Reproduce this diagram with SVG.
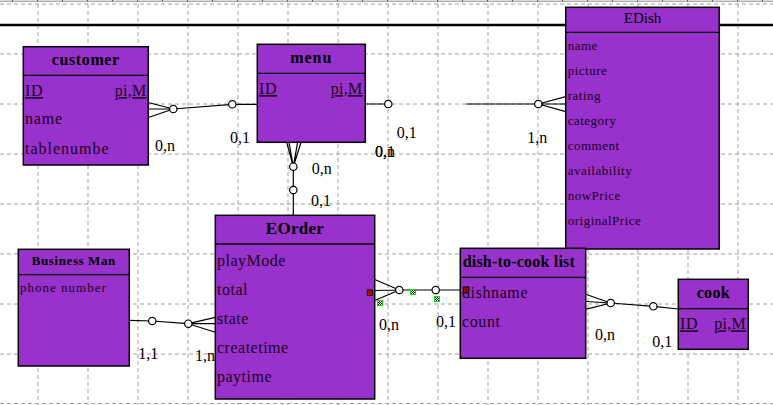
<svg xmlns="http://www.w3.org/2000/svg" width="773" height="405" viewBox="0 0 773 405">
<style>
.grid{stroke:#a0a0a0;stroke-width:1;stroke-dasharray:4,3;fill:none}
.ent{fill:#9932cc;stroke:#000;stroke-width:1.5}
.div{stroke:#000;stroke-width:1.3}
.t{font-family:"Liberation Serif",serif;fill:#000;font-weight:bold}
.a{font-family:"Liberation Serif",serif;fill:#1a0020}
.lab{font-family:"Liberation Serif",serif;font-size:16px;fill:#000}
.ln{stroke:#000;stroke-width:1.2;fill:none}
.c{fill:#fff;stroke:#000;stroke-width:1.2}
.u{text-decoration:underline}
</style>
<defs>
<pattern id="chk" width="2" height="2" patternUnits="userSpaceOnUse">
<rect width="2" height="2" fill="#fff"/><rect width="1" height="1" fill="#000"/><rect x="1" y="1" width="1" height="1" fill="#000"/>
</pattern>
</defs>
<rect width="773" height="405" fill="#fff"/>
<g id="grid">
<line class="grid" x1="0" y1="4" x2="773" y2="4"/>
<line class="grid" x1="0" y1="54" x2="773" y2="54"/>
<line class="grid" x1="0" y1="104" x2="773" y2="104"/>
<line class="grid" x1="0" y1="154" x2="773" y2="154"/>
<line class="grid" x1="0" y1="204" x2="773" y2="204"/>
<line class="grid" x1="0" y1="254" x2="773" y2="254"/>
<line class="grid" x1="0" y1="304" x2="773" y2="304"/>
<line class="grid" x1="0" y1="354" x2="773" y2="354"/>
<line class="grid" x1="0" y1="403.5" x2="773" y2="403.5"/>
<line class="grid" x1="38" y1="4" x2="38" y2="405"/>
<line class="grid" x1="88" y1="4" x2="88" y2="405"/>
<line class="grid" x1="138" y1="4" x2="138" y2="405"/>
<line class="grid" x1="188" y1="4" x2="188" y2="405"/>
<line class="grid" x1="238" y1="4" x2="238" y2="405"/>
<line class="grid" x1="288" y1="4" x2="288" y2="405"/>
<line class="grid" x1="338" y1="4" x2="338" y2="405"/>
<line class="grid" x1="388" y1="4" x2="388" y2="405"/>
<line class="grid" x1="438" y1="4" x2="438" y2="405"/>
<line class="grid" x1="488" y1="4" x2="488" y2="405"/>
<line class="grid" x1="538" y1="4" x2="538" y2="405"/>
<line class="grid" x1="588" y1="4" x2="588" y2="405"/>
<line class="grid" x1="638" y1="4" x2="638" y2="405"/>
<line class="grid" x1="688" y1="4" x2="688" y2="405"/>
<line class="grid" x1="738" y1="4" x2="738" y2="405"/>
<line x1="0" y1="1.2" x2="773" y2="1.2" stroke="#888" stroke-width="1"/>
<path d="M12.5 0V1.5M37.5 0V1.5M62.5 0V1.5M87.5 0V1.5M112.5 0V1.5M137.5 0V1.5M162.5 0V1.5M187.5 0V1.5M212.5 0V1.5M237.5 0V1.5M262.5 0V1.5M287.5 0V1.5M312.5 0V1.5M337.5 0V1.5M362.5 0V1.5M387.5 0V1.5M412.5 0V1.5M437.5 0V1.5M462.5 0V1.5M487.5 0V1.5M512.5 0V1.5M537.5 0V1.5M562.5 0V1.5M587.5 0V1.5M612.5 0V1.5M637.5 0V1.5M662.5 0V1.5M687.5 0V1.5M712.5 0V1.5M737.5 0V1.5M762.5 0V1.5" stroke="#555" stroke-width="1"/>
<line x1="0" y1="25" x2="773" y2="25" stroke="#000" stroke-width="2.5"/>
</g>
<g id="connectors">
<!-- customer - menu -->
<path class="ln" d="M148.3 102.5L173.3 109M148.3 109L173.3 109M148.3 117.5L173.3 109M173.3 109L232.3 104.3L257.3 104.3"/>
<circle class="c" cx="173.3" cy="109" r="3.7"/>
<circle class="c" cx="232.3" cy="104.3" r="3.7"/>
<text class="lab" x="155" y="150.7">0,n</text>
<text class="lab" x="230" y="142.7">0,1</text>
<!-- menu - EDish -->
<path class="ln" d="M365.3 104H388.3M466 104H538.3M538.3 104L565.7 96.7M538.3 104H565.7M538.3 104L565.7 111.7"/>
<circle class="c" cx="388.3" cy="104" r="3.7"/>
<circle class="c" cx="538.3" cy="104" r="3.7"/>
<text class="lab" x="396.7" y="137.7">0,1</text>
<text class="lab" x="527.3" y="142.7">1,n</text>
<text class="lab" x="375" y="157.3">0,n</text>
<text class="lab" x="375" y="157.3">0,1</text>
<!-- menu - EOrder -->
<path class="ln" d="M286.7 142.3L293.3 166.7M289 142.3L293.3 166.7M297.6 142.3L293.3 166.7M301 142.3L293.3 166.7M293.3 166.7V215.3"/>
<circle class="c" cx="293.3" cy="166.7" r="3.7"/>
<circle class="c" cx="293.3" cy="190" r="3.7"/>
<text class="lab" x="311.7" y="174">0,n</text>
<text class="lab" x="311" y="206">0,1</text>
<!-- Business Man - EOrder -->
<path class="ln" d="M129.3 320.3L152.3 321L188.3 323.7M188.3 323.7L215.3 317.3M188.3 323.7H215.3M188.3 323.7L215.3 332.3"/>
<circle class="c" cx="152.3" cy="321" r="3.7"/>
<circle class="c" cx="188.3" cy="323.7" r="3.7"/>
<text class="lab" x="138.3" y="359">1,1</text>
<text class="lab" x="195" y="360.7">1,n</text>
<!-- EOrder - dish-to-cook list -->
<path class="ln" d="M374.7 279.5L399.3 290M374.7 290.5L399.3 290M374.7 300.5L399.3 290M399.3 290H460.3"/>
<circle class="c" cx="399.3" cy="290" r="3.7"/>
<circle class="c" cx="435.7" cy="290" r="3.7"/>
<text class="lab" x="379" y="330">0,n</text>
<text class="lab" x="436" y="326.7">0,1</text>
<!-- dish-to-cook list - cook -->
<path class="ln" d="M585.7 294.3L610.7 303M585.7 301.5L610.7 303M585.7 309.3L610.7 303M610.7 303L653.3 306.3L678.3 309"/>
<circle class="c" cx="610.7" cy="303" r="3.7"/>
<circle class="c" cx="653.3" cy="306.3" r="3.7"/>
<text class="lab" x="595" y="340">0,n</text>
<text class="lab" x="652.3" y="346.7">0,1</text>
</g>
<g id="customer">
<rect class="ent" x="23.3" y="46.7" width="125" height="118.3"/>
<line class="div" x1="23.3" y1="75.3" x2="148.3" y2="75.3"/>
<text class="t" x="85.8" y="65" font-size="16" text-anchor="middle" letter-spacing="0.6">customer</text>
<text class="a u" x="25" y="96" font-size="16" letter-spacing="0.6">ID</text>
<text class="a u" x="146.5" y="96" font-size="16" text-anchor="end" letter-spacing="0.3">pi,M</text>
<text class="a" x="25" y="124" font-size="16" letter-spacing="0.8">name</text>
<text class="a" x="25" y="154" font-size="16" letter-spacing="1">tablenumbe</text>
</g>
<g id="menu">
<rect class="ent" x="257.3" y="44.3" width="108" height="98"/>
<line class="div" x1="257.3" y1="73.3" x2="365.3" y2="73.3"/>
<text class="t" x="311.3" y="63" font-size="16" text-anchor="middle" letter-spacing="1">menu</text>
<text class="a u" x="259" y="94" font-size="16" letter-spacing="0.6">ID</text>
<text class="a u" x="362.5" y="94" font-size="16" text-anchor="end" letter-spacing="0.3">pi,M</text>
</g>
<g id="EDish">
<rect class="ent" x="565.7" y="7.3" width="153.6" height="241.7"/>
<line class="div" x1="565.7" y1="32.3" x2="719.3" y2="32.3"/>
<text class="a" x="642.5" y="23" font-size="15" text-anchor="middle" fill="#000" style="fill:#000">EDish</text>
<text class="a" x="567.7" y="49.5" font-size="13" letter-spacing="0.5">name</text>
<text class="a" x="567.7" y="74.5" font-size="13" letter-spacing="0.5">picture</text>
<text class="a" x="567.7" y="99.5" font-size="13" letter-spacing="0.5">rating</text>
<text class="a" x="567.7" y="124.5" font-size="13" letter-spacing="0.5">category</text>
<text class="a" x="567.7" y="149.5" font-size="13" letter-spacing="0.5">comment</text>
<text class="a" x="567.7" y="174.5" font-size="13" letter-spacing="0.5">availability</text>
<text class="a" x="567.7" y="199.5" font-size="13" letter-spacing="0.5">nowPrice</text>
<text class="a" x="567.7" y="224.5" font-size="13" letter-spacing="0.5">originalPrice</text>
</g>
<g id="EOrder">
<rect class="ent" x="215.3" y="215.3" width="159.4" height="183.7"/>
<line class="div" x1="215.3" y1="244" x2="374.7" y2="244"/>
<text class="t" x="295" y="234.3" font-size="17" text-anchor="middle" letter-spacing="0.3">EOrder</text>
<text class="a" x="217" y="265.7" font-size="16" letter-spacing="0.5">playMode</text>
<text class="a" x="217" y="294.5" font-size="16" letter-spacing="0.5">total</text>
<text class="a" x="217" y="323.5" font-size="16" letter-spacing="0.5">state</text>
<text class="a" x="217" y="352.5" font-size="16" letter-spacing="0.5">createtime</text>
<text class="a" x="217" y="381.5" font-size="16" letter-spacing="0.5">paytime</text>
<g id="eorder-marker">
<rect x="367.3" y="290" width="5" height="5.5" fill="#e00000" stroke="#000" stroke-width="1"/>
<circle cx="369.8" cy="292.7" r="0.9" fill="#000"/>
</g>
</g>
<g id="BusinessMan">
<rect class="ent" x="18.3" y="249.3" width="111" height="116.7"/>
<line class="div" x1="18.3" y1="274.7" x2="129.3" y2="274.7"/>
<text class="t" x="73.8" y="265" font-size="13" text-anchor="middle" letter-spacing="0.6">Business Man</text>
<text class="a" x="20" y="292" font-size="13" letter-spacing="1">phone number</text>
</g>
<g id="dish-to-cook-list">
<rect class="ent" x="460.3" y="248.3" width="125.4" height="110"/>
<line class="div" x1="460.3" y1="277.3" x2="585.7" y2="277.3"/>
<text class="t" x="462.7" y="267.3" font-size="16" letter-spacing="0.2">dish-to-cook list</text>
<text class="a" x="462" y="297.7" font-size="16" letter-spacing="0.6">dishname</text>
<text class="a" x="462" y="326.7" font-size="16" letter-spacing="0.6">count</text>
<g id="dish-marker">
<rect x="463.3" y="287" width="5.5" height="6" fill="#e00000" stroke="#000" stroke-width="1"/>
<path d="M466 287V293M463.3 290H468.8" stroke="#000" stroke-width="0.8"/>
</g>
</g>
<g id="cook">
<rect class="ent" x="678.3" y="279.3" width="70" height="70"/>
<line class="div" x1="678.3" y1="308.7" x2="748.3" y2="308.7"/>
<text class="t" x="713.3" y="297.7" font-size="16" text-anchor="middle" letter-spacing="0.3">cook</text>
<text class="a u" x="680" y="329.3" font-size="16" letter-spacing="0.6">ID</text>
<text class="a u" x="746" y="329.3" font-size="16" text-anchor="end" letter-spacing="0.3">pi,M</text>
</g>
<g id="selection-handles">
<rect x="410.5" y="289.5" width="5" height="5" fill="url(#chk)" stroke="#00e000" stroke-width="1"/>
<rect x="377.5" y="300.5" width="5" height="5" fill="url(#chk)" stroke="#00e000" stroke-width="1"/>
<rect x="434.5" y="296.5" width="5" height="5" fill="url(#chk)" stroke="#00e000" stroke-width="1"/>
</g>
</svg>
